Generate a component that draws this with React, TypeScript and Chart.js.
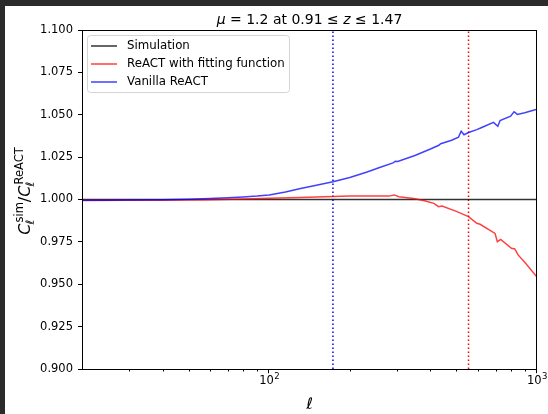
import React, { useEffect, useRef } from "react";
import { Chart, registerables } from "chart.js";
Chart.register(...registerables);

// ---- data ----
const simEll = [20, 1000];
const simRatio = [1.0, 1.0];

const fitEll = [20, 30, 40, 50, 60, 80, 100, 130, 173, 200, 240, 280, 293, 305, 346, 380, 412, 429, 442, 500, 555, 596, 613, 697, 711, 732, 803, 826, 850, 900, 1000];
const fitRatio = [0.9994, 0.9995, 0.9996, 0.9997, 0.9999, 1.0003, 1.0007, 1.0012, 1.0018, 1.002, 1.0021, 1.002, 1.0027, 1.0016, 1.0006, 0.9993, 0.9977, 0.9958, 0.9962, 0.993, 0.9899, 0.986, 0.9854, 0.98, 0.9751, 0.9765, 0.9712, 0.9708, 0.9673, 0.963, 0.9542];

const vanEll = [20, 25, 30, 40, 50, 60, 70, 80, 90, 100, 115, 131, 150, 173, 200, 232, 260, 290, 296, 302, 350, 400, 430, 437, 480, 509, 521, 534, 555, 596, 622, 688, 714, 728, 797, 821, 845, 900, 1000];
const vanRatio = [0.9995, 0.9996, 0.9997, 0.9999, 1.0002, 1.0006, 1.001, 1.0015, 1.002, 1.0027, 1.0044, 1.0065, 1.0084, 1.0105, 1.013, 1.0162, 1.019, 1.0216, 1.0226, 1.0224, 1.026, 1.0298, 1.032, 1.0329, 1.035, 1.0367, 1.0403, 1.0382, 1.0395, 1.0412, 1.0425, 1.0455, 1.0432, 1.0466, 1.0492, 1.0518, 1.0502, 1.0512, 1.0532];

const cutVanilla = 173;
const cutFit = 555;

const yTickValues = [0.9, 0.925, 0.95, 0.975, 1.0, 1.025, 1.05, 1.075, 1.1];
const xMajorTicks = [100, 1000];
const xMajorExponents = ["2", "3"];
const xMinorTicks = [30, 40, 50, 60, 70, 80, 90, 200, 300, 400, 500, 600, 700, 800, 900];

const legendLabels = ["Simulation", "ReACT with fitting function", "Vanilla ReACT"];
const FONT = "'DejaVu Sans'";

const toXY = (xs: number[], ys: number[]) => xs.map((x, i) => ({ x, y: ys[i] }));

const SIM_COLOR = "rgba(0,0,0,0.8)";
const FIT_COLOR = "rgba(255,0,0,0.75)";
const VAN_COLOR = "rgba(0,0,255,0.75)";

const decoPlugin = {
  id: "deco",
  afterDraw(chart: any) {
    const ctx = chart.ctx as CanvasRenderingContext2D;
    const a = chart.chartArea;
    const xs = chart.scales.x;
    ctx.save();
    // frame
    ctx.strokeStyle = "#000";
    ctx.lineWidth = 1;
    ctx.strokeRect(a.left + 0.5, a.top + 0.5, a.right - a.left - 1, a.bottom - a.top);

    // x ticks
    ctx.beginPath();
    for (const v of xMinorTicks) {
      const px = Math.round(xs.getPixelForValue(v)) + 0.5;
      ctx.moveTo(px, a.bottom);
      ctx.lineTo(px, a.bottom + 2.5);
    }
    for (const v of xMajorTicks) {
      const px = Math.round(xs.getPixelForValue(v)) - 0.5;
      ctx.moveTo(px, a.bottom);
      ctx.lineTo(px, a.bottom + 4.2);
    }
    ctx.stroke();

    // x tick labels 10^n
    ctx.fillStyle = "#000";
    ctx.textBaseline = "alphabetic";
    ctx.textAlign = "left";
    xMajorTicks.forEach((v, i) => {
      const px = xs.getPixelForValue(v);
      ctx.font = `11.5px ${FONT}`;
      const w1 = ctx.measureText("10").width;
      ctx.font = `8.5px ${FONT}`;
      const w2 = ctx.measureText(xMajorExponents[i]).width;
      const start = px - (w1 + w2) / 2;
      const base = a.bottom + 14.5;
      ctx.font = `11.5px ${FONT}`;
      ctx.fillText("10", start, base);
      ctx.font = `8.5px ${FONT}`;
      ctx.fillText(xMajorExponents[i], start + w1 + 0.5, base - 4.5);
    });

    // x label
    ctx.font = `italic 16px ${FONT}`;
    ctx.textAlign = "center";
    ctx.fillText("ℓ", (a.left + a.right) / 2, 403);

    // title
    const segs = [
      { t: "μ", it: true },
      { t: " = 1.2 at 0.91 ≤ ", it: false },
      { t: "z", it: true },
      { t: " ≤ 1.47", it: false },
    ];
    ctx.textAlign = "left";
    let tw = 0;
    for (const s of segs) {
      ctx.font = `${s.it ? "italic " : ""}14px ${FONT}`;
      tw += ctx.measureText(s.t).width;
    }
    let tx = (a.left + a.right) / 2 - tw / 2;
    for (const s of segs) {
      ctx.font = `${s.it ? "italic " : ""}14px ${FONT}`;
      ctx.fillText(s.t, tx, 17.5);
      tx += ctx.measureText(s.t).width;
    }

    // y label (rotated)
    const big = `italic 16px ${FONT}`;
    const supF = `11.5px ${FONT}`;
    const subF = `italic 11.5px ${FONT}`;
    const pieces: { main: string; sup?: string; sub?: string; italic: boolean }[] = [
      { main: "C", sup: "sim", sub: "ℓ", italic: true },
      { main: "/", italic: false },
      { main: "C", sup: "ReACT", sub: "ℓ", italic: true },
    ];
    const widthOf = (p: any) => {
      ctx.font = p.italic ? big : `16px ${FONT}`;
      let w = ctx.measureText(p.main).width;
      if (p.sup) {
        ctx.font = supF;
        const ws = ctx.measureText(p.sup).width;
        ctx.font = subF;
        const wb = ctx.measureText(p.sub).width;
        w += Math.max(ws, wb) + 1;
      }
      return w;
    };
    let total = 0;
    pieces.forEach((p) => (total += widthOf(p)));
    ctx.translate(25, 185 + total / 2);
    ctx.rotate(-Math.PI / 2);
    let lx = 0;
    for (const p of pieces) {
      ctx.font = p.italic ? big : `16px ${FONT}`;
      ctx.fillText(p.main, lx, 0);
      const mw = ctx.measureText(p.main).width;
      lx += mw;
      if (p.sup) {
        ctx.font = supF;
        ctx.fillText(p.sup, lx + 1, -7.5);
        const ws = ctx.measureText(p.sup).width;
        ctx.font = subF;
        ctx.fillText(p.sub!, lx - 1, 4);
        const wb = ctx.measureText(p.sub!).width;
        lx += Math.max(ws, wb) + 1;
      }
    }
    ctx.setTransform(1, 0, 0, 1, 0, 0);

    // legend
    const lx0 = a.left + 5, ly0 = a.top + 5, lw = 202, lh = 57;
    ctx.beginPath();
    ctx.roundRect(lx0 + 0.5, ly0 + 0.5, lw, lh, 3);
    ctx.fillStyle = "rgba(255,255,255,0.8)";
    ctx.fill();
    ctx.strokeStyle = "#d4d4d4";
    ctx.lineWidth = 1;
    ctx.stroke();
    const colors = [SIM_COLOR, FIT_COLOR, VAN_COLOR];
    ctx.font = `11.8px ${FONT}`;
    ctx.textBaseline = "middle";
    legendLabels.forEach((lab, i) => {
      const y = ly0 + 11 + i * 18;
      ctx.strokeStyle = colors[i];
      ctx.lineWidth = 1.5;
      ctx.beginPath();
      ctx.moveTo(lx0 + 4, y);
      ctx.lineTo(lx0 + 30, y);
      ctx.stroke();
      ctx.fillStyle = "#000";
      ctx.fillText(lab, lx0 + 40, y);
    });
    ctx.restore();
  },
};

export default function App() {
  const ref = useRef<HTMLCanvasElement>(null);
  useEffect(() => {
    if (!ref.current) return;
    const chart = new Chart(ref.current, {
      type: "line",
      data: {
        datasets: [
          {
            label: "cutVanilla",
            data: [{ x: cutVanilla, y: 0.9 }, { x: cutVanilla, y: 1.1 }],
            borderColor: "#0000ff",
            borderWidth: 1.5,
            borderDash: [1.5, 2.5],
            pointRadius: 0,
            order: 5,
          },
          {
            label: "cutFit",
            data: [{ x: cutFit, y: 0.9 }, { x: cutFit, y: 1.1 }],
            borderColor: "#ff0000",
            borderWidth: 1.5,
            borderDash: [1.5, 2.5],
            pointRadius: 0,
            order: 4,
          },
          {
            label: legendLabels[0],
            data: toXY(simEll, simRatio),
            borderColor: SIM_COLOR,
            borderWidth: 1.5,
            pointRadius: 0,
            order: 3,
          },
          {
            label: legendLabels[1],
            data: toXY(fitEll, fitRatio),
            borderColor: FIT_COLOR,
            borderWidth: 1.5,
            pointRadius: 0,
            order: 2,
          },
          {
            label: legendLabels[2],
            data: toXY(vanEll, vanRatio),
            borderColor: VAN_COLOR,
            borderWidth: 1.5,
            pointRadius: 0,
            order: 1,
          },
        ],
      },
      options: {
        animation: false,
        responsive: false,
        devicePixelRatio: 1,
        layout: { padding: { top: 24, right: 11, left: 0, bottom: 0 } },
        plugins: {
          legend: { display: false },
          tooltip: { enabled: false },
          title: { display: false },
        },
        elements: { line: { tension: 0, fill: false } },
        scales: {
          x: {
            type: "logarithmic",
            min: 20,
            max: 1000,
            grid: { display: false },
            border: { display: false },
            ticks: { display: false },
            afterFit: (s: any) => {
              s.height = 45;
            },
          },
          y: {
            min: 0.9,
            max: 1.1,
            afterBuildTicks: (s: any) => {
              s.ticks = yTickValues.map((v) => ({ value: v }));
            },
            ticks: {
              callback: (v: any) => Number(v).toFixed(3),
              font: { family: "DejaVu Sans", size: 11.5 },
              color: "#000",
              padding: 5,
              autoSkip: false,
            },
            grid: {
              drawOnChartArea: false,
              drawTicks: true,
              tickLength: 4,
              color: "#000",
              lineWidth: 1,
            },
            border: { display: false },
            afterFit: (s: any) => {
              s.width = 77;
            },
          },
        },
      },
      plugins: [decoPlugin],
    } as any);
    return () => chart.destroy();
  }, []);
  return (
    <>
      <div style={{ position: "fixed", inset: 0, background: "#2b2b2b" }} />
      <div style={{ position: "absolute", left: 5, top: 6, width: 543, height: 408, background: "#fff" }}>
        <canvas ref={ref} width={543} height={408} style={{ display: "block" }} />
      </div>
    </>
  );
}
